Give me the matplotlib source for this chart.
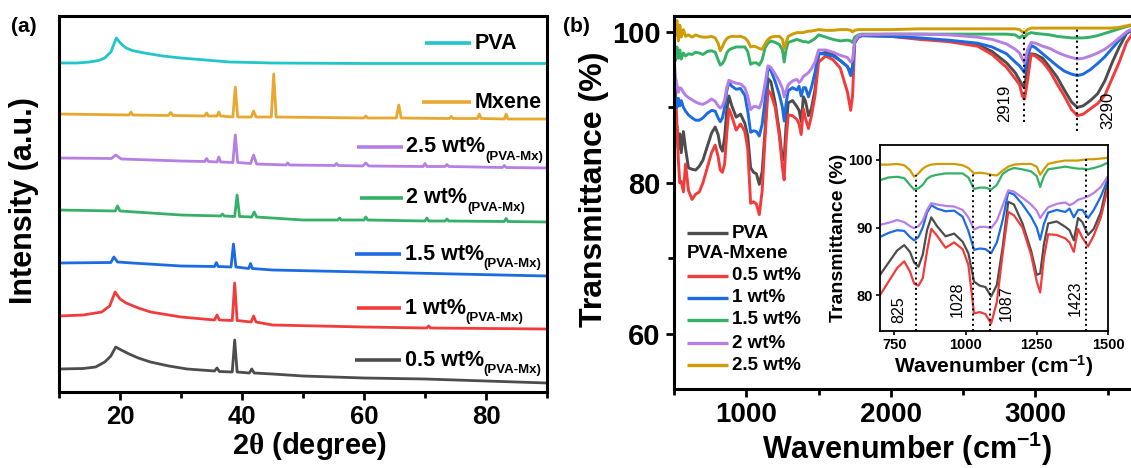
import numpy as np
import matplotlib
matplotlib.use('Agg')
import matplotlib.pyplot as plt
from matplotlib.ticker import MultipleLocator

plt.rcParams['font.family'] = 'Liberation Sans'
plt.rcParams['font.weight'] = 'bold'
plt.rcParams['axes.labelweight'] = 'bold'
plt.rcParams['mathtext.fontset'] = 'custom'
plt.rcParams['mathtext.rm'] = 'Liberation Serif:bold'
plt.rcParams['mathtext.bf'] = 'Liberation Sans:bold'
plt.rcParams['mathtext.default'] = 'bf'

# ---------------- (a) XRD, intensity in arbitrary units (stacked) ----------------
tt_pva = [10, 13, 15, 16.5, 17.5, 18.5, 19.4, 20.2, 21, 22, 24, 27, 30, 34, 38, 45, 60, 75, 90]
I_pva = [329, 329, 330, 331.5, 334, 340, 354, 348, 344, 341.5, 339, 336, 334, 332, 330, 329, 328.5, 328.5, 328.5]

tt_mx = [10, 21.5, 21.8, 22.1, 27.9, 28.3, 28.7, 33.9, 34.2, 34.5, 35.9, 36.2, 36.5, 38.5, 38.9, 39.3,
         41.5, 41.9, 42.3, 44.8, 45.2, 45.6, 60.0, 60.3, 60.6, 65.3, 65.7, 66.1, 74.0, 74.3, 74.6,
         78.6, 78.9, 79.2, 83.0, 83.3, 83.6, 90]
I_mx = [278, 277, 280, 277, 276.5, 279.5, 276.5, 276, 279, 276, 276, 280, 276, 275, 305, 275,
        275, 281, 275, 275, 318, 275, 274, 276, 274, 274, 287, 274, 273.5, 275.5, 273.5,
        273.5, 278, 273.5, 273, 278, 273, 273]

tt_25 = [10, 18.6, 19.3, 20.2, 30, 33.9, 34.2, 34.5, 35.9, 36.2, 36.5, 38.5, 38.9, 39.3, 41.4, 41.9, 42.4,
         47.2, 47.5, 47.8, 55.2, 55.5, 55.8, 59.8, 60.3, 60.8, 69.7, 70.0, 70.3, 73.3, 73.6, 73.9,
         82.7, 83.0, 83.3, 90]
I_25 = [234, 233.5, 237, 233, 231, 230.5, 233.5, 230.5, 230, 235, 230, 229.5, 257, 229.5, 228.5, 237, 228,
        227, 229, 227, 226.5, 228.5, 226.5, 226, 229, 226, 225.5, 228.5, 225.5, 225.5, 227.5, 225.5,
        224.5, 226.5, 224.5, 224]

tt_2 = [10, 19.2, 19.6, 20.0, 25, 30, 36.5, 36.8, 37.1, 38.8, 39.2, 39.6, 41.6, 42.0, 42.4, 50,
        55.7, 56.0, 56.3, 60.0, 60.3, 60.6, 70.0, 70.3, 70.6, 73.3, 73.6, 73.9, 83.0, 83.3, 83.6, 90]
I_2 = [182, 181, 186, 181, 179, 177, 176, 178, 176, 175.5, 197, 175.5, 175, 180, 175, 172,
       172, 174, 172, 172, 175, 172, 171, 174, 171, 171, 173, 171, 170.5, 173.5, 170.5, 170]

tt_15 = [10, 18.5, 19.0, 19.6, 22, 30, 35.5, 35.8, 36.1, 38.2, 38.6, 39.0, 41.1, 41.4, 41.7, 45, 60, 90]
I_15 = [129, 129.5, 135, 130, 129, 126, 125.5, 129.5, 125.5, 125, 148, 125, 123.5, 128.5, 123.5, 122, 120, 116]

tt_1 = [10, 14, 17, 18.3, 19.2, 20, 21, 23, 25, 30, 35.5, 35.9, 36.3, 38.4, 38.8, 39.2,
        41.5, 41.9, 42.3, 45, 60, 70.3, 70.6, 70.9, 90]
I_1 = [76, 77, 80, 86, 100, 93, 89, 84, 80, 75, 72, 77, 72, 71.5, 109, 71.5,
       70, 76, 70, 67, 65, 64, 66, 64, 63]

tt_05 = [10, 14, 16, 17.5, 18.5, 19.3, 20.2, 21.5, 23, 25, 28, 31, 35.5, 35.9, 36.3, 38.4, 38.8, 39.2,
         41.2, 41.6, 42.0, 45, 50, 60, 70, 80, 90]
I_05 = [23, 23.5, 25, 30, 36, 45, 42, 38, 34, 30, 26, 23, 21, 24, 20.5, 20, 52, 20,
        19, 23, 19, 18, 16, 14, 13, 11, 9]

# ---------------- (b) FTIR, transmittance (%) on a common wavenumber grid ----------------
wn = [500, 510, 520, 530, 540, 550, 565, 580, 600,
      625, 650, 675, 700,
      730, 760, 785, 805, 820, 835, 850, 865, 880, 900,
      930, 960, 990, 1010, 1030, 1050, 1070, 1090, 1110, 1130,
      1150, 1170, 1200, 1230, 1250, 1262, 1275, 1290, 1320, 1350,
      1365, 1380, 1395, 1410, 1430, 1450, 1475, 1500,
      1550, 1600, 1650, 1700, 1722, 1735, 1750, 1775, 1800,
      2000, 2200, 2400, 2600, 2700, 2800,
      2860, 2890, 2910, 2925, 2945, 2970, 3000,
      3050, 3100, 3150, 3200, 3250, 3290, 3330, 3380, 3430, 3480,
      3530, 3580, 3630, 3680, 3750, 3850, 4000]

T_pva = [89.0, 86.0, 87.5, 84.5, 86.5, 84.0, 86.8, 84.5, 82.0,
         81.8, 81.7, 82.2, 83.0,
         84.8, 86.6, 87.4, 86.4, 84.8, 84.2, 86.0, 89.6, 91.5, 90.2,
         88.7, 89.1, 87.9, 86.2, 82.0, 81.4, 81.2, 79.8, 81.5, 87.0,
         93.8, 93.4, 90.6, 86.6, 83.0, 83.2, 87.5, 90.6, 90.9, 90.1,
         89.6, 88.1, 91.4, 90.8, 88.9, 89.8, 92.3, 97.0,
         97.3, 97.0, 96.2, 95.4, 94.6, 95.4, 98.8, 99.4, 99.6,
         99.5, 99.1, 98.8, 98.3, 97.4, 95.9,
         94.6, 93.6, 92.9, 92.6, 95.5, 97.1, 97.0,
         96.5, 95.3, 94.0, 92.3, 90.7, 90.0, 90.2, 90.9, 91.8, 93.5,
         95.9, 98.0, 99.8, 100.3, 100.6, 100.7, 100.8]

T_05 = [94.0, 92.5, 88.0, 83.0, 80.0, 80.2, 78.8, 82.5, 79.0,
        77.8, 78.5, 78.8, 80.0,
        82.0, 84.0, 85.0, 83.5, 81.7, 81.4, 82.5, 86.5, 89.8, 88.8,
        87.0, 87.8, 86.8, 84.5, 77.3, 77.5, 77.2, 75.8, 79.0, 86.0,
        92.3, 91.8, 90.0, 86.0, 82.0, 80.4, 85.5, 89.0, 88.9, 88.4,
        87.8, 86.4, 89.8, 88.5, 87.2, 88.8, 91.5, 96.0,
        96.8, 96.3, 95.2, 92.0, 89.6, 91.5, 98.6, 99.3, 99.5,
        99.4, 99.0, 98.7, 98.1, 97.0, 95.3,
        93.8, 93.0, 91.5, 91.1, 93.5, 97.0, 96.8,
        96.0, 94.8, 93.1, 91.5, 89.7, 88.9, 89.1, 89.8, 90.5, 91.6,
        93.8, 96.0, 98.6, 100.0, 100.5, 100.7, 100.8]

T_1 = [93.0, 91.5, 90.0, 91.2, 90.2, 90.9, 90.0, 89.5, 89.0,
       88.6, 88.3, 88.3, 88.6,
       89.2, 89.6, 89.5, 88.6, 88.1, 88.6, 90.0, 92.2, 93.3, 92.8,
       92.4, 92.5, 91.6, 89.5, 86.7, 86.9, 86.8, 86.2, 87.8, 91.0,
       95.2, 94.9, 93.4, 91.6, 90.0, 88.2, 90.5, 92.2, 92.6, 92.3,
       92.8, 91.5, 92.6, 92.6, 91.4, 92.6, 94.6, 97.2,
       97.0, 96.8, 96.2, 95.4, 94.2, 95.0, 98.6, 99.3, 99.5,
       99.4, 99.2, 98.9, 98.5, 98.0, 97.1,
       96.0, 95.5, 95.0, 94.6, 96.8, 98.2, 97.9,
       97.1, 96.3, 95.5, 94.8, 94.4, 94.2, 94.4, 95.0, 95.8, 96.7,
       97.8, 98.9, 99.9, 100.4, 100.7, 100.8, 100.9]

T_15 = [97.5, 96.2, 98.0, 96.5, 97.6, 96.4, 97.2, 96.8, 97.1,
        97.0, 97.3, 97.2, 97.0,
        97.4, 97.5, 97.3, 96.3, 95.6, 95.8, 96.3, 97.2, 97.6, 97.8,
        98.0, 98.0, 98.0, 97.4, 95.7, 95.9, 95.9, 95.6, 96.3, 97.9,
        98.5, 98.8, 98.6, 98.3, 97.6, 96.0, 97.6, 98.6, 98.8, 99.0,
        98.9, 98.8, 98.7, 98.7, 98.6, 98.8, 99.1, 99.6,
        99.3, 99.0, 98.8, 98.9, 98.8, 98.6, 99.3, 99.6, 99.7,
        99.7, 99.7, 99.7, 99.7, 99.7, 99.7,
        99.6, 99.2, 99.5, 99.3, 99.7, 99.9, 99.8,
        99.7, 99.6, 99.4, 99.3, 99.2, 99.2, 99.2, 99.3, 99.5, 99.8,
        100.1, 100.4, 100.7, 100.9, 101.0, 101.0, 101.0]

T_2 = [96.5, 94.0, 93.0, 92.0, 92.6, 92.5, 92.0, 91.6, 91.3,
       91.0, 90.7, 90.5, 90.4,
       90.7, 91.1, 90.8, 90.2, 89.9, 90.2, 91.0, 92.6, 93.6, 93.4,
       93.2, 93.1, 92.6, 91.5, 89.7, 90.1, 90.1, 89.9, 91.0, 93.2,
       95.5, 95.3, 94.4, 93.4, 92.5, 91.4, 92.2, 93.0, 93.5, 93.7,
       93.3, 93.6, 94.1, 94.3, 94.6, 95.1, 96.0, 97.6,
       97.6, 97.3, 96.9, 96.6, 96.0, 96.3, 98.8, 99.5, 99.6,
       99.7, 99.7, 99.6, 99.3, 99.0, 98.4,
       97.7, 97.2, 96.4, 95.9, 97.6, 98.6, 98.5,
       98.1, 97.8, 97.3, 96.9, 96.6, 96.4, 96.5, 96.8, 97.2, 97.7,
       98.4, 99.2, 100.0, 100.5, 100.8, 100.9, 101.0]

T_25 = [101.8, 99.5, 101.5, 98.8, 100.9, 99.3, 100.3, 99.4, 99.6,
        99.3, 99.6, 99.4, 99.3,
        99.3, 99.4, 99.2, 98.5, 97.5, 98.0, 98.7, 99.1, 99.3, 99.4,
        99.4, 99.4, 99.2, 98.8, 98.0, 98.1, 98.0, 97.8, 97.7, 98.4,
        99.0, 99.3, 99.4, 99.4, 99.0, 97.8, 98.6, 99.4, 99.7, 99.9,
        99.9, 99.9, 99.9, 100.0, 100.1, 100.1, 100.2, 100.3,
        100.2, 100.2, 100.3, 100.3, 100.2, 100.0, 100.2, 100.3, 100.3,
        100.3, 100.4, 100.4, 100.4, 100.4, 100.4,
        100.4, 100.3, 100.0, 99.9, 100.3, 100.5, 100.5,
        100.5, 100.5, 100.5, 100.5, 100.5, 100.5, 100.5, 100.5, 100.5, 100.5,
        100.5, 100.6, 100.8, 101.0, 101.0, 101.0, 101.0]

peaks_main = [2919, 3290]
peaks_inset = [825, 1028, 1087, 1423]

c_gray = '#4d4d4d'
c_red = '#f23b3b'
c_blue = '#1c6be3'
c_green = '#35b067'
c_purple = '#b67fe6'
c_gold = '#cf9c06'
c_orange = '#e8a830'
c_cyan = '#20c6c8'

fig = plt.figure(figsize=(11.31, 4.68), dpi=100)

def style_axes(ax, lw=2.2, fs=17):
    for s in ax.spines.values():
        s.set_linewidth(lw)
    ax.tick_params(which='major', direction='out', length=6, width=lw * 0.9, labelsize=fs)
    ax.tick_params(which='minor', direction='out', length=4, width=lw * 0.9)

# ---------------- panel (a) ----------------
ax = fig.add_axes([59 / 1131, 1 - 392 / 468, 488 / 1131, 376 / 468])
xrd = [(tt_05, I_05, c_gray), (tt_1, I_1, c_red), (tt_15, I_15, c_blue), (tt_2, I_2, c_green),
       (tt_25, I_25, c_purple), (tt_mx, I_mx, c_orange), (tt_pva, I_pva, c_cyan)]
for x, y, c in xrd:
    ax.plot(x, y, color=c, lw=2.0)
ax.set_xlim(10, 90)
ax.set_ylim(0, 376)
ax.set_yticks([])
ax.xaxis.set_major_locator(MultipleLocator(20))
ax.xaxis.set_minor_locator(MultipleLocator(10))
style_axes(ax, fs=18.5)
ax.set_xlabel(r'2$\mathrm{\theta}$ (degree)', fontsize=21)
ax.xaxis.set_label_coords(0.514, -0.10)
ax.set_ylabel('Intensity (a.u.)', fontsize=22)
ax.yaxis.set_label_coords(-0.041, 0.51)

# keys for (a): (x0, x1, y) in axes fraction
keys_a = [(0.749, 0.844, 0.928, c_cyan, 'PVA', None),
          (0.744, 0.844, 0.771, c_orange, 'Mxene', None),
          (0.611, 0.705, 0.652, c_purple, '2.5 wt%', '(PVA-Mx)'),
          (0.617, 0.705, 0.516, c_green, '2 wt%', '(PVA-Mx)'),
          (0.607, 0.701, 0.367, c_blue, '1.5 wt%', '(PVA-Mx)'),
          (0.611, 0.701, 0.223, c_red, '1 wt%', '(PVA-Mx)'),
          (0.607, 0.701, 0.085, c_gray, '0.5 wt%', '(PVA-Mx)')]
for x0, x1, y, c, lab, sub in keys_a:
    ax.plot([x0, x1], [y, y], color=c, lw=2.6, transform=ax.transAxes, solid_capstyle='butt')
    t = ax.text(x1 + 0.007, y, lab, transform=ax.transAxes, fontsize=15.5, va='center', ha='left')
    if sub:
        ax.annotate(sub, xy=(1.0, 0.02), xycoords=t, fontsize=9.5, va='center', ha='left')

fig.text(24 / 1131, 1 - 27 / 468, '(a)', fontsize=15, ha='center', va='center')

# ---------------- panel (b) ----------------
bx = fig.add_axes([674 / 1131, 1 - 389 / 468, 506 / 1131, 373 / 468])
ftir = [(T_pva, c_gray), (T_05, c_red), (T_1, c_blue), (T_15, c_green), (T_2, c_purple), (T_25, c_gold)]
for y, c in ftir:
    bx.plot(wn, y, color=c, lw=2.1)
bx.set_xlim(500, 4000)
bx.set_ylim(52.7, 102.1)
bx.set_xticks([1000, 2000, 3000])
bx.xaxis.set_minor_locator(MultipleLocator(500))
bx.yaxis.set_major_locator(MultipleLocator(20))
bx.yaxis.set_minor_locator(MultipleLocator(10))
style_axes(bx, fs=20)
bx.tick_params(axis='y', labelsize=21)
bx.set_xlabel(r'Wavenumber (cm$^{-1}$)', fontsize=22)
bx.xaxis.set_label_coords(0.46, -0.11)
bx.set_ylabel('Transmittance (%)', fontsize=23)
bx.yaxis.set_label_coords(-0.128, 0.535)

bx.vlines(peaks_main[0], 88.0, 100.5, colors='k', linestyles=':', lw=1.5)
bx.vlines(peaks_main[1], 86.9, 100.6, colors='k', linestyles=':', lw=1.5)
bx.text(2784, 90.5, str(peaks_main[0]), rotation=90, fontsize=12, fontweight='normal', ha='center', va='center')
bx.text(3503, 89.6, str(peaks_main[1]), rotation=90, fontsize=12, fontweight='normal', ha='center', va='center')

keys_b = [(0.418, c_gray, 'PVA'), (0.303, c_red, '0.5 wt%'), (0.244, c_blue, '1 wt%'),
          (0.185, c_green, '1.5 wt%'), (0.123, c_purple, '2 wt%'), (0.064, c_gold, '2.5 wt%')]
for y, c, lab in keys_b:
    bx.plot([0.0257, 0.1067], [y, y], color=c, lw=2.4, transform=bx.transAxes, solid_capstyle='butt')
    bx.text(0.1146, y, lab, transform=bx.transAxes, fontsize=13.5, va='center', ha='left')
bx.text(0.0257, 0.362, 'PVA-Mxene', transform=bx.transAxes, fontsize=13.5, va='center', ha='left')

fig.text(576 / 1131, 1 - 26 / 468, '(b)', fontsize=15, ha='center', va='center')

# ---------------- inset ----------------
ix = fig.add_axes([880 / 1131, 1 - 331 / 468, 228 / 1131, 186 / 468])
for y, c in ftir:
    ix.plot(wn, y, color=c, lw=1.6)
ix.set_xlim(700, 1500)
ix.set_ylim(74.7, 102.2)
ix.set_xticks([750, 1000, 1250, 1500])
ix.set_yticks([80, 90, 100])
for s in ix.spines.values():
    s.set_linewidth(1.3)
ix.tick_params(direction='out', length=3, width=1.2, labelsize=10.5, pad=2)
ix.set_xlabel(r'Wavenumber (cm$^{-1}$)', fontsize=15, labelpad=1)
ix.set_ylabel('Transmittance (%)', fontsize=14, labelpad=1)

tops_inset = [97.8, 98.0, 98.0, 100.4]
lab_pos = [(767, 77.8), (970, 79.4), (1142, 78.8), (1384, 79.5)]
for p, top, (lx, ly) in zip(peaks_inset, tops_inset, lab_pos):
    ix.vlines(p, 74.7, top, colors='k', linestyles=':', lw=1.4)
    ix.text(lx, ly, str(p), rotation=90, fontsize=11.5, fontweight='normal', ha='center', va='center')

fig.savefig('out.png', dpi=100)
